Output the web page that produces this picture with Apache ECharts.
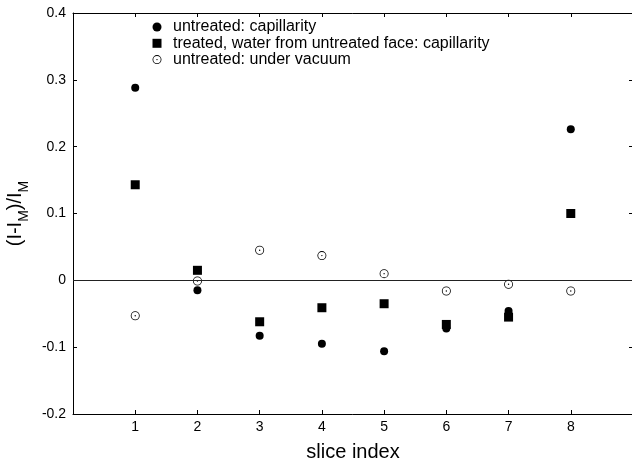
<!DOCTYPE html>
<html>
<head>
<meta charset="utf-8">
<script src="https://cdn.jsdelivr.net/npm/echarts@6/dist/echarts.min.js"></script>
<style>
  html, body { margin: 0; padding: 0; background: #fff; }
  #chart { width: 632px; height: 464px; }
</style>
</head>
<body>
<div id="chart"></div>
<script>
// Slice indices along the sample
const sliceIndex = [1, 2, 3, 4, 5, 6, 7, 8];

// Relative deviation (I - I_M) / I_M per slice
const untreatedCapillary = [0.288, -0.015, -0.083, -0.095, -0.106, -0.072, -0.046, 0.226];
const treatedCapillary   = [0.143, 0.015, -0.062, -0.041, -0.035, -0.066, -0.055, 0.100];
const untreatedVacuum    = [-0.053, -0.001, 0.045, 0.037, 0.010, -0.016, -0.006, -0.016];

const seriesNames = [
  'untreated: capillarity',
  'treated, water from untreated face: capillarity',
  'untreated: under vacuum'
];

const xTicks = [1, 2, 3, 4, 5, 6, 7, 8];

const pairs = (ys) => sliceIndex.map((x, i) => [x, ys[i]]);

// open ring with a centre dot (outer cw, inner ccw so the ring stays hollow)
const ringDot = 'path://M0,-10A10,10 0 1,1 0,10A10,10 0 1,1 0,-10Z' +
  'M0,-8.2A8.2,8.2 0 1,0 0,8.2A8.2,8.2 0 1,0 0,-8.2Z' +
  'M0,-1.6A1.6,1.6 0 1,1 0,1.6A1.6,1.6 0 1,1 0,-1.6Z';
// filled square that keeps its aspect inside the legend box
const square = 'path://M0,0H10V10H0Z';

const font = '"Liberation Sans", Arial, Helvetica, sans-serif';

const tickStyle = { inside: true, length: 4, lineStyle: { color: '#000', width: 1 } };
const lineStyle = { show: true, onZero: false, lineStyle: { color: '#000', width: 1 } };

const chart = echarts.init(document.getElementById('chart'), null, { renderer: 'canvas' });

chart.setOption({
  animation: false,
  backgroundColor: '#fff',
  textStyle: { fontFamily: font },
  grid: { left: 73, top: 13, width: 560, height: 401, containLabel: false, outerBoundsMode: 'none' },
  legend: {
    orient: 'vertical',
    left: 147.5,
    top: 14,
    itemWidth: 22,
    itemHeight: 9,
    itemGap: 0.3,
    selectedMode: false,
    textStyle: { fontFamily: font, fontSize: 16, color: '#000', lineHeight: 16 },
    data: [
      { name: seriesNames[0], icon: 'circle' },
      { name: seriesNames[1], icon: square },
      { name: seriesNames[2], icon: ringDot }
    ]
  },
  xAxis: [
    {
      type: 'value', min: 0, max: 9, interval: 1,
      axisLine: lineStyle, axisTick: tickStyle, splitLine: { show: false },
      axisLabel: {
        color: '#000', fontSize: 14, fontFamily: font, margin: 6,
        formatter: (v) => (xTicks.indexOf(v) >= 0 ? String(v) : '')
      },
      name: 'slice index', nameLocation: 'middle', nameGap: 28,
      nameTextStyle: { color: '#000', fontSize: 20, fontFamily: font }
    },
    {
      type: 'value', position: 'top', min: 0, max: 9, interval: 1,
      axisLine: lineStyle, axisTick: tickStyle, splitLine: { show: false },
      axisLabel: { show: false }
    }
  ],
  yAxis: [
    {
      type: 'value', min: -0.2, max: 0.4, interval: 0.1,
      axisLine: lineStyle, axisTick: tickStyle, splitLine: { show: false },
      axisLabel: {
        color: '#000', fontSize: 14, fontFamily: font, margin: 7,
        formatter: (v) => (Math.abs(v) < 1e-9 ? '0' : v.toFixed(1))
      },
      name: '(I-I{sub|M})/I{sub|M}', nameLocation: 'middle', nameGap: 42, nameRotate: 90,
      nameTextStyle: {
        color: '#000', fontSize: 20, fontFamily: font,
        rich: { sub: { fontSize: 14, fontFamily: font, color: '#000', verticalAlign: 'bottom', padding: [0, 0, -5, 0] } }
      }
    },
    {
      type: 'value', position: 'right', min: -0.2, max: 0.4, interval: 0.1,
      axisLine: lineStyle, axisTick: tickStyle, splitLine: { show: false },
      axisLabel: { show: false }
    }
  ],
  series: [
    {
      name: seriesNames[0], type: 'scatter', symbol: 'circle', symbolSize: 8,
      itemStyle: { color: '#000', opacity: 1 },
      data: pairs(untreatedCapillary),
      markLine: {
        silent: true, symbol: 'none', label: { show: false },
        lineStyle: { color: '#222', width: 1, type: 'solid' },
        data: [{ yAxis: 0 }]
      }
    },
    {
      name: seriesNames[1], type: 'scatter', symbol: 'rect', symbolSize: 9,
      itemStyle: { color: '#000', opacity: 1 },
      data: pairs(treatedCapillary)
    },
    {
      name: seriesNames[2], type: 'scatter', symbol: ringDot, symbolSize: 9,
      itemStyle: { color: '#000', opacity: 1 },
      data: pairs(untreatedVacuum)
    }
  ]
});
</script>
</body>
</html>
